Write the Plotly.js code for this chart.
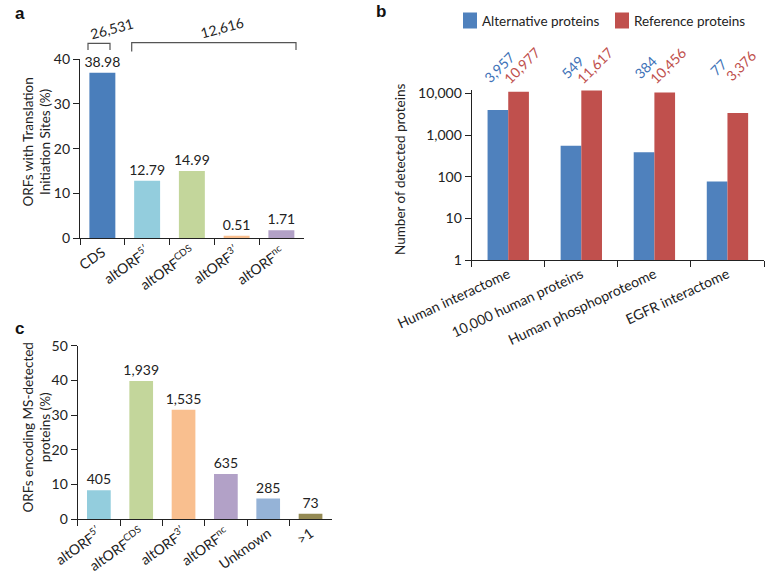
<!DOCTYPE html>
<html><head><meta charset="utf-8">
<script src="https://cdn.plot.ly/plotly-3.0.1.min.js"></script>
<style>html,body{margin:0;padding:0;background:#fff}#chart{width:769px;height:578px}</style>
</head><body><div id="chart"></div>
<script>
const W = 769, H = 578;
const px = x => x / W;
const py = y => 1 - y / H;

// Panel a
const catsA = ['CDS', 'altORF<sup>5′</sup>', 'altORF<sup>CDS</sup>', 'altORF<sup>3′</sup>', 'altORF<sup>nc</sup>'];
const valsA = [37.0, 12.79, 14.99, 0.51, 1.71];
const labelsA = ['38.98', '12.79', '14.99', '0.51', '1.71'];
const colorsA = ['#4a7ebb', '#93cddd', '#c3d69b', '#f9bf8f', '#b2a1c7'];
const bracketLabels = ['26,531', '12,616'];
const titleA = 'ORFs with Translation<br>Initiation Sites (%)';

// Panel b
const catsB = ['Human interactome', '10,000 human proteins', 'Human phosphoproteome', 'EGFR interactome'];
const altB = [3957, 549, 384, 77];
const refB = [10977, 11617, 10456, 3376];
const seriesB = ['Alternative proteins', 'Reference proteins'];
const titleB = 'Number of detected proteins';

// Panel c
const catsC = ['altORF<sup>5′</sup>', 'altORF<sup>CDS</sup>', 'altORF<sup>3′</sup>', 'altORF<sup>nc</sup>', 'Unknown', '>1'];
const pctC = [8.3, 39.8, 31.5, 13.0, 5.9, 1.5];
const countsC = [405, 1939, 1535, 635, 285, 73];
const colorsC = ['#93cddd', '#c3d69b', '#f9bf8f', '#b2a1c7', '#95b3d7', '#948a54'];
const titleC = 'ORFs encoding MS-detected<br>proteins (%)';

const fmt = v => v.toLocaleString('en-US');
const FONT = 'Lato, "Open Sans", sans-serif';
const TXT = '#222';
const BLUE = '#4f81bd', RED = '#c0504d';

const traces = [
  {type: 'bar', x: catsA, y: valsA, text: labelsA, textposition: 'outside', cliponaxis: false,
   constraintext: 'none', textfont: {size: 14, color: TXT}, marker: {color: colorsA}, width: 0.58,
   xaxis: 'x', yaxis: 'y', showlegend: false},
  {type: 'bar', name: seriesB[0], x: catsB, y: altB, marker: {color: BLUE},
   xaxis: 'x2', yaxis: 'y2', showlegend: false},
  {type: 'bar', name: seriesB[1], x: catsB, y: refB, marker: {color: RED},
   xaxis: 'x2', yaxis: 'y2', showlegend: false},
  {type: 'bar', x: catsC, y: pctC, text: countsC.map(fmt), textposition: 'outside', cliponaxis: false,
   constraintext: 'none', textfont: {size: 14, color: TXT}, marker: {color: colorsC}, width: 0.56,
   xaxis: 'x3', yaxis: 'y3', showlegend: false}
];

const axBase = {showline: true, linecolor: '#222', linewidth: 1.2, ticks: 'outside', ticklen: 6,
  tickcolor: '#222', tickwidth: 1.2, showgrid: false, zeroline: false,
  tickfont: {size: 14, color: TXT}, fixedrange: true};

const annotations = [];
const ann = (o) => annotations.push(Object.assign({showarrow: false, xanchor: 'center', yanchor: 'middle',
  xref: 'paper', yref: 'paper'}, o));
// panel letters
[['a', 20, 13], ['b', 381, 12], ['c', 19, 329]].forEach(([t, x, y]) => ann({
  text: '<b>' + t + '</b>', x: px(x), y: py(y),
  font: {size: 17, family: 'Liberation Sans, Arial, sans-serif', color: '#111'}}));
// y-axis titles
ann({text: titleA, x: px(36.5), y: py(142), textangle: -90, font: {size: 13.5, color: TXT}});
ann({text: titleB, x: px(400), y: py(170), textangle: -90, font: {size: 13.5, color: TXT}});
ann({text: titleC, x: px(36.5), y: py(428), textangle: -90, font: {size: 13.5, color: TXT}});
// bracket labels
ann({text: bracketLabels[0], x: px(112), y: py(29), textangle: -15, font: {size: 14, color: TXT}});
ann({text: bracketLabels[1], x: px(222), y: py(27), textangle: -15, font: {size: 14, color: TXT}});
// panel b value labels
catsB.forEach((c, i) => {
  ann({text: fmt(altB[i]), x: i, xref: 'x2', xshift: -9.5, y: py(67),
    textangle: -45, font: {size: 14, color: '#3f73b8'}});
  ann({text: fmt(refB[i]), x: i, xref: 'x2', xshift: 13.5, y: py(65.5),
    textangle: -45, font: {size: 14, color: RED}});
});
// panel b legend text
ann({text: seriesB[0], x: px(480), y: py(20.5), xanchor: 'left', font: {size: 13.5, color: TXT}});
ann({text: seriesB[1], x: px(632), y: py(20.5), xanchor: 'left', font: {size: 13.5, color: TXT}});

const bracketLine = {color: '#555', width: 1.2};
const shapes = [
  {type: 'path', xref: 'paper', yref: 'paper', line: bracketLine,
   path: `M${px(88)},${py(50)} L${px(88)},${py(43.3)} L${px(110)},${py(43.3)} L${px(110)},${py(50)}`},
  {type: 'path', xref: 'paper', yref: 'paper', line: bracketLine,
   path: `M${px(131.7)},${py(51.5)} L${px(131.7)},${py(42.7)} L${px(296)},${py(42.7)} L${px(296)},${py(50)}`},
  // legend swatches
  {type: 'rect', xref: 'paper', yref: 'paper', x0: px(463), x1: px(477), y0: py(28.5), y1: py(12.5),
   fillcolor: BLUE, line: {width: 0}},
  {type: 'rect', xref: 'paper', yref: 'paper', x0: px(615), x1: px(629), y0: py(28.5), y1: py(12.5),
   fillcolor: RED, line: {width: 0}}
];

const layout = {
  width: W, height: H, margin: {l: 0, r: 0, t: 0, b: 0},
  paper_bgcolor: '#fff', plot_bgcolor: '#fff',
  font: {family: FONT, color: TXT, size: 13},
  barmode: 'group', bargap: 0.434, bargroupgap: 0,
  showlegend: false,
  xaxis: Object.assign({}, axBase, {domain: [px(80), px(303.75)], anchor: 'y', type: 'category',
    range: [-0.5, 4.5], tickson: 'boundaries', tickangle: -35}),
  yaxis: Object.assign({}, axBase, {domain: [py(238), py(59.3)], anchor: 'x', range: [0, 40], dtick: 10}),
  xaxis2: Object.assign({}, axBase, {domain: [px(471.7), px(764)], anchor: 'y2', type: 'category',
    range: [-0.5, 3.5], tickson: 'boundaries', tickangle: -25}),
  yaxis2: Object.assign({}, axBase, {domain: [py(260), py(90)], anchor: 'x2', type: 'log', range: [0, 4.08],
    tickvals: [1, 10, 100, 1000, 10000], ticktext: ['1', '10', '100', '1,000', '10,000']}),
  xaxis3: Object.assign({}, axBase, {domain: [px(77.7), px(331.7)], anchor: 'y3', type: 'category',
    range: [-0.5, 5.5], tickson: 'boundaries', tickangle: -35}),
  yaxis3: Object.assign({}, axBase, {domain: [py(519), py(345.7)], anchor: 'x3', range: [0, 50], dtick: 10}),
  annotations: annotations,
  shapes: shapes
};

Plotly.newPlot('chart', traces, layout, {displayModeBar: false});
</script>
</body></html>
